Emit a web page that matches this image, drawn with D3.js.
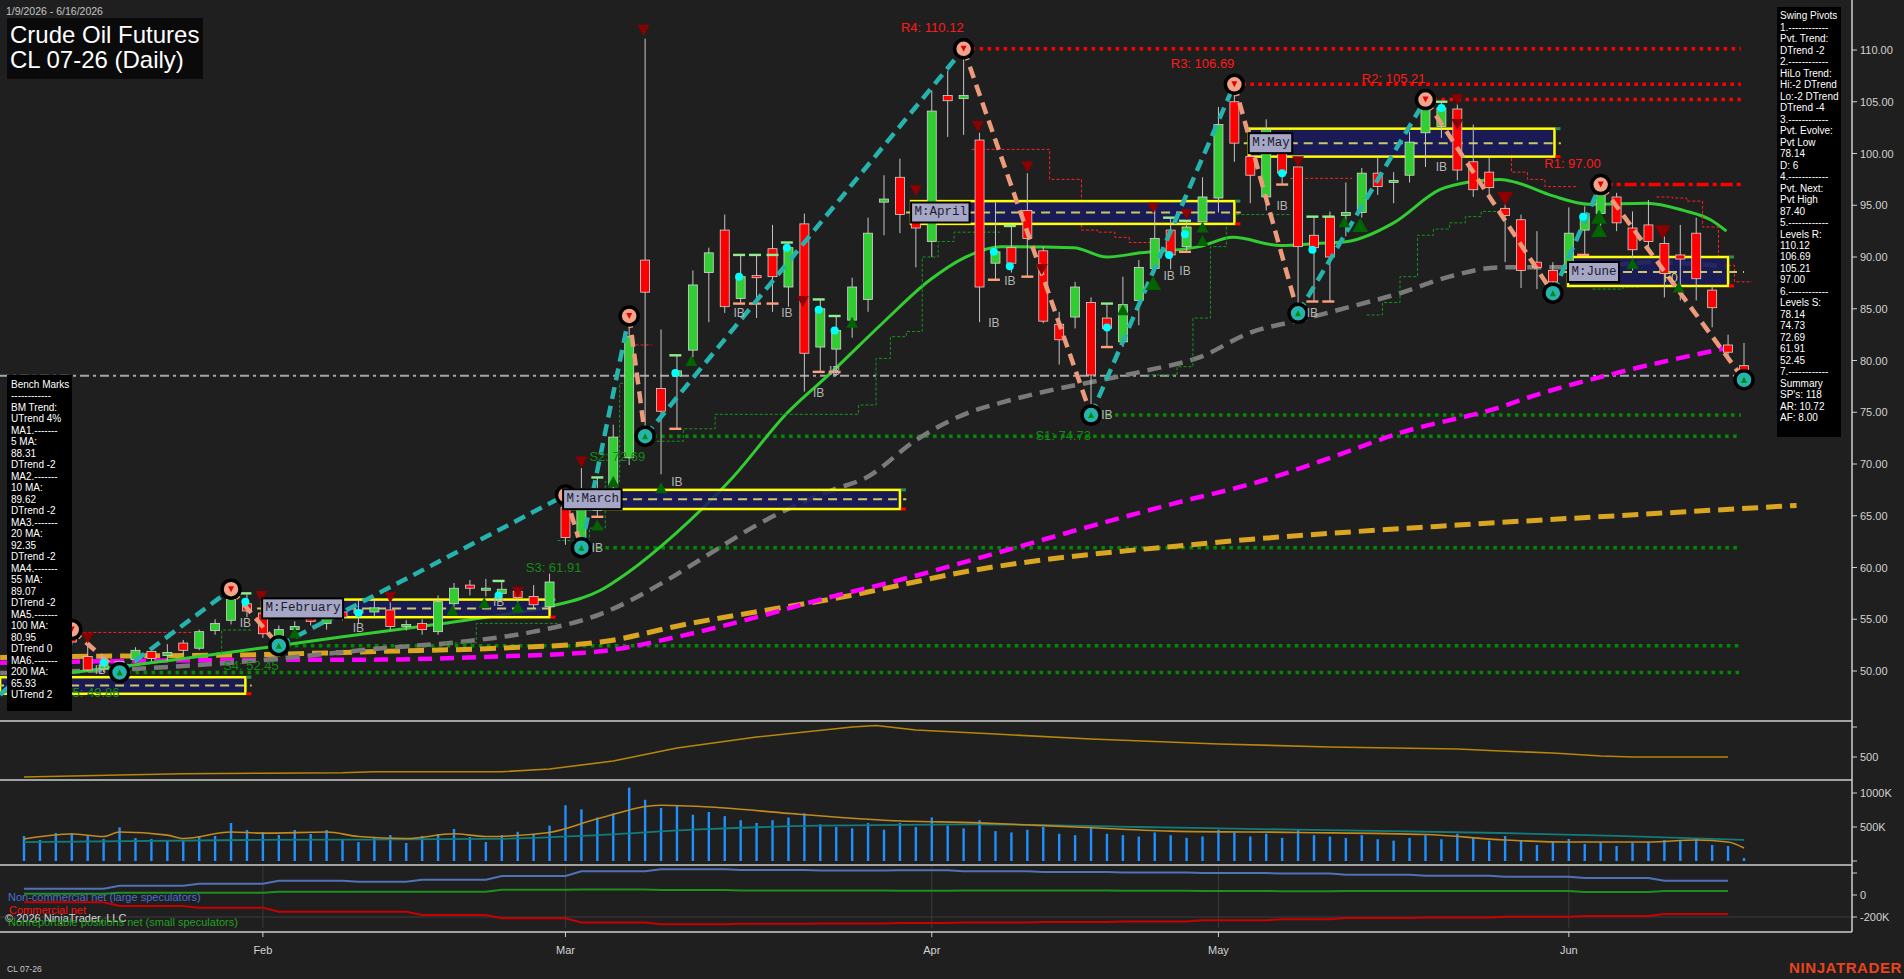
<!DOCTYPE html>
<html><head><meta charset="utf-8">
<script src="https://cdn.jsdelivr.net/npm/d3@7"></script>
<style>
html,body{margin:0;padding:0;background:#1f1f1f;overflow:hidden;}
svg{display:block;}
</style></head><body>
<svg id="chart" width="1904" height="979"></svg>
<script>
// ================= DATA =================
const dateRange = "1/9/2026 - 6/16/2026";
const titleLines = ["Crude Oil Futures", "CL 07-26 (Daily)"];
const footerSymbol = "CL 07-26";

const opens = [51.8,52.6,53.0,53.5,51.4,50.2,50.4,51.1,51.9,51.5,
 52.7,52.2,53.9,54.9,56.5,55.6,53.4,54.0,55.9,54.6,
 55.7,55.6,55.7,55.9,54.3,54.6,53.8,56.5,58.3,57.8,
 57.5,57.7,57.2,56.2,65.8,62.9,65.5,67.8,70.6,89.7,
 77.3,78.5,81.0,88.5,92.6,86.0,88.2,90.8,87.1,93.2,
 81.3,81.1,83.9,85.9,95.3,97.7,94.2,91.5,105.6,105.3,
 101.3,89.4,90.9,94.5,90.6,83.5,84.2,85.6,84.1,81.8,
 85.8,88.9,92.6,91.0,93.4,95.7,105.0,99.7,95.8,101.0,
 98.7,92.1,93.9,94.0,94.3,98.1,97.2,97.9,102.0,102.6,
 104.3,99.2,98.2,94.7,93.6,89.5,88.7,88.9,92.6,94.2,
 95.8,92.8,93.1,91.3,90.2,92.3,86.8,81.5,79.5];
const highs = [53.0,53.4,53.8,54.0,53.3,50.9,51.0,52.3,52.2,52.6,
 53.0,54.0,55.0,57.9,57.4,56.2,54.4,54.8,56.3,55.6,
 56.8,56.8,56.9,56.8,54.9,55.0,57.3,58.5,58.8,58.9,
 58.7,58.0,58.3,59.4,67.0,69.6,68.7,73.8,84.3,111.1,
 83.0,80.5,88.7,90.9,94.1,90.2,90.2,93.1,91.4,94.2,
 85.9,84.3,88.0,93.8,97.9,99.5,95.0,106.1,108.0,110.12,
 102.0,95.3,93.0,98.1,91.0,84.7,87.6,86.1,85.5,88.1,
 89.7,94.8,93.8,93.5,97.7,104.5,106.69,102.5,103.3,102.0,
 99.5,93.9,94.4,97.2,98.6,99.6,98.2,102.1,105.21,105.0,
 104.8,102.8,99.6,95.5,94.1,92.5,89.5,94.8,94.9,97.0,
 96.2,94.4,95.5,92.0,93.1,93.8,87.2,82.5,81.7];
const lows = [51.2,52.0,52.4,52.5,50.0,49.9,49.86,50.8,50.9,51.0,
 51.6,52.0,53.5,54.5,55.2,53.2,52.45,53.2,54.4,54.0,
 54.9,54.6,55.2,54.0,53.9,53.5,53.5,56.2,57.3,57.2,
 56.9,56.6,56.0,56.0,62.2,61.91,64.9,67.2,69.9,72.69,
 69.0,73.4,80.3,83.7,84.6,85.5,84.1,84.7,85.2,77.0,
 78.9,78.5,82.2,84.7,92.1,92.3,89.0,90.0,101.6,101.8,
 83.7,87.8,88.5,88.1,83.6,79.6,83.1,74.73,81.3,81.3,
 83.4,88.5,88.8,90.5,92.8,94.3,99.2,95.2,94.5,97.0,
 84.56,85.7,85.7,92.0,93.8,96.0,95.2,97.2,98.7,101.5,
 97.4,95.8,95.8,89.5,87.0,86.9,86.5,87.5,90.2,93.0,
 92.5,88.7,90.8,86.1,85.8,85.8,83.2,80.0,78.14];
const closes = [52.6,53.1,53.4,52.8,50.1,50.6,50.9,52.0,51.2,51.8,
 52.0,53.8,54.6,56.9,55.8,53.6,54.0,54.3,54.8,55.2,
 55.2,55.9,56.1,54.3,54.5,54.0,56.7,58.0,58.0,58.0,
 57.9,57.1,56.4,58.6,62.9,66.2,66.8,72.6,82.3,86.6,
 75.1,79.0,87.3,90.4,85.2,88.1,88.0,88.1,90.9,80.7,
 85.0,82.9,87.1,92.3,95.6,94.1,92.8,104.1,105.1,105.6,
 87.1,90.5,89.4,91.8,83.8,82.0,87.1,78.6,83.1,85.4,
 89.0,91.8,90.2,92.9,95.8,102.8,101.0,97.9,102.3,98.1,
 91.0,90.9,90.0,94.3,98.1,96.8,97.4,101.1,104.4,104.4,
 98.4,96.5,96.7,94.0,88.7,89.0,87.6,92.3,94.0,96.0,
 93.3,90.7,91.5,88.4,89.8,87.9,85.1,80.8,78.5];
const volumesK = [368,309,412,412,368,324,495,338,324,294,
 294,368,368,559,456,426,382,456,397,456,
 309,279,353,382,265,368,397,471,353,279,
 380,430,400,520,820,760,640,700,1080,900,
 780,820,680,720,660,600,560,600,640,700,
 540,500,480,560,460,560,500,640,520,480,
 600,440,420,460,500,400,380,520,400,380,
 360,420,380,340,360,460,420,360,400,340,
 460,380,360,340,380,320,300,340,380,320,
 400,340,300,368,294,235,279,324,250,279,
 221,265,279,309,294,324,235,221,44];

// moving averages: [bar index, value]
const ma20 = [[-1.5,49.2],[3.3,49.9],[9,51.0],[15.3,52.3],[20,53.3],[24.9,54.3],[29,55.2],[32.9,56.2],[36.2,57.8],[37.9,59.5],[41,63.4],[44.5,68.7],[47.9,74.9],[50.8,79.0],[53.9,83.6],[56.9,87.8],[59,89.9],[61.3,91.0],[65.9,90.9],[68,90.0],[70.1,90.4],[73.8,91.0],[75.9,91.9],[78.9,91.1],[81.2,91.3],[83.1,91.5],[86,93.3],[88.9,96.5],[91,97.3],[92.7,97.5],[93.7,97.2],[96,95.9],[98.3,95.1],[101.9,95.2],[104.2,94.5],[105.9,93.6],[106.9,92.5]];
const ma55 = [[-1.5,49.8],[6.9,50.2],[15.3,51.1],[22.5,52.2],[27.3,52.8],[32,53.8],[36.2,55.5],[40.4,58.8],[42.4,60.7],[46.6,64.6],[50.8,67.5],[52.9,68.7],[56,72.3],[59.2,74.9],[61.3,75.9],[64.4,77.1],[67.6,78.1],[70.7,79.1],[73.8,80.3],[77,82.7],[80.1,83.9],[83.3,85.2],[86.4,86.5],[89.5,88.1],[92.7,89.0],[97.9,89.0],[102.1,89.5],[106.9,89.1]];
const ma100 = [[-1.5,50.8],[3.1,50.9],[12.9,51.06],[22.5,51.1],[29.7,51.4],[36.2,51.9],[41,53.3],[46,55.2],[50,56.9],[55,58.8],[61.3,61.5],[67,64.0],[72,66.1],[78,68.5],[82.2,70.7],[86.4,73.0],[92.7,75.5],[94.4,76.4],[100,78.8],[106.9,81.2]];
const ma200 = [[-1.5,51.3],[3.1,51.4],[15.3,51.6],[22.5,51.9],[29.7,52.2],[36.2,52.8],[41.2,54.4],[51.9,57.3],[59.5,59.7],[74.7,62.4],[90,64.1],[100,65.0],[111.3,66.0]];

// swing pivots
const swingIdx = [-1.5, 3, 6, 13, 16, 34, 35, 38, 39, 59, 67, 76, 80, 88, 96, 99, 108];
const swingVal = [47.7, 54.0, 49.86, 57.9, 52.45, 67.0, 61.91, 84.3, 72.69, 110.12, 74.73, 106.69, 84.56, 105.21, 86.5, 97.0, 78.14];

const resLabels = ["R4: 110.12","R3: 106.69","R2: 105.21","R1: 97.00"];
const resIdx = [59, 76, 88, 99];
const resVal = [110.12, 106.69, 105.21, 97.00];
const supLabels = ["S1: 74.73","S2: 72.69","S3: 61.91","S4: 52.45","S5: 49.86"];
const supIdx = [67, 39, 35, 16, 6];
const supVal = [74.73, 72.69, 61.91, 52.45, 49.86];
const lastPrice = 78.53;

// monthly range boxes (January's label is hidden behind the Bench Marks panel)
const boxNames = ["","M:February","M:March","M:April","M:May","M:June"];
const boxStart = [-1.5, 14.95, 33.85, 55.7, 76.9, 96.95];
const boxEnd   = [13.9, 33.0, 55.0, 76.0, 96.1, 107.0];
const boxMidEnd= [14.3, 33.4, 55.4, 76.4, 96.5, 108.0];
const boxHigh  = [49.4, 56.9, 67.5, 95.4, 102.4, 90.0];
const boxLow   = [47.8, 55.2, 65.65, 93.2, 99.7, 87.2];
const boxMid   = [48.6, 56.05, 66.6, 94.3, 101.0, 88.55];

// trailing step lines [bar index, price]
const redSteps = [
 [[3.1,53.73],[10.5,53.73]],
 [[38.4,81.5],[39.4,81.5]],
 [[59.5,100.4],[64.4,97.5],[66.4,92.6],[67.4,92.4],[68.5,91.9],[69.4,91.4],[71.3,91.4]],
 [[79.5,97.6],[83.4,97.6]],
 [[92.5,100.1],[93.4,98.2],[94.4,97.5],[95.5,96.8],[97.5,96.8]],
 [[102.5,95.8],[103.5,95.7],[104.4,95.4],[105.4,92.9],[106.4,89.2],[107.4,87.6],[108.5,87.6]]
];
const greenSteps = [
 [[12.4,51.7],[12.41,53.96],[14.4,53.96]],
 [[26.4,52.7],[28.4,54.6],[33.5,54.6]],
 [[33.5,62.6],[35.5,63.8],[36.5,68.3],[37.4,77.8],[38.2,77.8]],
 [[39.1,72.2],[41.4,73.4],[43.4,74.8],[52.4,75.7],[53.5,80.2],[54.4,82.3],[55.4,82.8],[56.4,90.0],[57.4,91.5],[58.4,92.4],[61.3,92.4]],
 [[70.5,78.6],[72.4,79.4],[73.4,84.1],[74.5,91.0],[75.5,94.1],[79.5,94.1]],
 [[84.3,84.4],[85.3,85.6],[86.4,88.1],[87.5,92.1],[88.5,92.7],[89.5,93.3],[90.5,93.9],[91.5,94.4],[92.7,94.4]],
 [[98.5,86.9],[100.4,87.1],[101.5,87.1]]
];

// signal markers [bar index, price]
const downTri = [[4,53.2],[14.9,57.2],[23,57.1],[31,57.6],[35,70.2],[38.9,111.9],[48.9,85.7],[56,96.4],[59.9,102.6],[63,98.7],[63.9,88.8],[70.9,94.7],[73,94.1],[80,99.2],[90,105.2],[90,102.8]];
const downTriBig = [[93,95.6],[102.9,92.4]];
const upTri = [[17,53.7],[26.9,55.9],[28.9,56.6],[31,56.2],[36,64.1],[37,68.3],[40,67.7],[41.9,80.0],[52,83.7],[69,84.9],[74,92.9],[74,91.6],[82.9,93.4],[101,89.4],[103.9,87.1]];
const upTriBig = [[70.9,87.5],[83.9,93.1],[98.9,93.9],[98.9,92.6]];
const cyanDots = [[5,50.8],[13.9,56.7],[21,55.6],[29.8,57.3],[36,66.2],[40.9,78.8],[44.9,88.1],[47.9,90.9],[49.9,84.9],[50.9,82.9],[60.9,90.5],[61.9,89.1],[68,83.2],[71.9,90.2],[72.9,92.2],[79,98.1],[80.9,90.7],[89,104.4],[97.9,93.9]];
const capsHigh = [[13.9,57.5],[29.8,58.7],[36,68.7],[40.9,80.5],[44.9,90.2],[45.9,90.2],[47,90.2],[47.9,91.4],[49.9,85.9],[50.9,84.3],[61.9,93.0],[68,85.5],[71.9,93.8],[72.9,93.5],[80.9,93.9],[81.9,93.9],[89,105.0]];
const capsLow = [[36,64.9],[40.9,73.4],[44.9,85.5],[45.9,85.5],[47,85.5],[49.9,78.9],[50.9,78.9],[60.9,87.8],[63,88.1],[68,81.3],[72.9,90.5],[79,97.0],[80.9,85.7],[81.9,85.7],[97.9,90.2]];
const ibLabels = [[4.8,50.1],[13.9,54.6],[21,54.2],[29.8,56.7],[36,61.9],[41,68.3],[44.9,84.6],[47.9,84.6],[49.9,76.9],[50.9,79.0],[60.9,83.6],[61.9,87.7],[68,74.7],[71.9,88.2],[72.9,88.6],[79,94.9],[80.9,84.6],[89,98.7]];
const f0Label = [103.4, 88.0];

// text panels
const benchLines = ["Bench Marks","------------","BM Trend:","UTrend 4%","MA1.-------","5 MA:","88.31","DTrend -2","MA2.-------","10 MA:","89.62","DTrend -2","MA3.-------","20 MA:","92.35","DTrend -2","MA4.-------","55 MA:","89.07","DTrend -2","MA5.-------","100 MA:","80.95","DTrend 0","MA6.-------","200 MA:","65.93","UTrend 2"];
const swingLines = ["Swing Pivots","1.------------","Pvt. Trend:","DTrend -2","2.------------","HiLo Trend:","Hi:-2 DTrend","Lo:-2 DTrend","DTrend -4","3.------------","Pvt. Evolve:","Pvt Low","78.14","D: 6","4.------------","Pvt. Next:","Pvt High","87.40","5.------------","Levels R:","110.12","106.69","105.21","97.00","6.------------","Levels S:","78.14","74.73","72.69","61.91","52.45","7.------------","Summary","SP's: 118","AR: 10.72","AF: 8.00"];

// axes
const priceTicks = [50,55,60,65,70,75,80,85,90,95,100,105,110];
const monthLabels = ["Feb","Mar","Apr","May","Jun"];
const monthTickIdx = [15, 34, 57, 75, 97];

// panel 2 (orange study)
const panel2 = [[0,167],[3,183],[6,200],[10,222],[15,230],[20,238],[22,255],[30,255],[33,300],[37,433],[41,650],[46,833],[52,1000],[53.5,1025],[56,950],[61,883],[67,800],[75,717],[82,667],[90,633],[92.7,600],[96,567],[99,517],[101,500],[107,500]];
const panel2Ticks = [500, 1000];
const panel2TickLabels = ["500", ""];
// volume overlays
const volAvg = [[0,324],[3,397],[5,360],[6,426],[9,380],[10,330],[13,426],[15,410],[19,426],[21,360],[24,330],[27,400],[29,360],[33,420],[36,620],[40,820],[44,780],[48,700],[54,600],[60,560],[66,500],[72,440],[80,420],[88,390],[93,309],[97,279],[102,279],[105,309],[107,280],[108,191]];
const volSlow = [[0,279],[14,309],[29,324],[36,380],[42,460],[50,520],[60,540],[70,500],[80,460],[92.7,412],[100,370],[108,309]];
const volTicks = [0, 500, 1000];
const volTickLabels = ["", "500K", "1000K"];
// COT (weekly)
const cotWeekStart = [0,6,11,16,21,25,30,35,40,45,50,55,59,64,69,74,79,83,88,93,98,103];
const cotNonComm = [57,85,103,130,121,139,173,215,235,228,222,225,215,210,205,200,195,185,175,166,155,130];
const cotNonRep  = [12,21,21,30,30,30,48,50,45,42,40,38,40,42,38,36,35,36,36,36,27,36];
const cotComm    = [-67,-100,-115,-152,-152,-182,-212,-250,-265,-262,-258,-255,-250,-245,-240,-230,-220,-210,-205,-197,-191,-173];
const cotTicks = [-200, 0, 200];
const cotTickLabels = ["-200K", "0", ""];
const cotLegend = ["Non-commercial net (large speculators)","Commercial net","© 2026 NinjaTrader, LLC","Nonreportable positions net (small speculators)"];

// ================= DRAW =================
const FONT = "'Liberation Sans', Arial, Helvetica, sans-serif";
const MONO = "'Liberation Mono', 'Courier New', monospace";
const AXIS_X = 1852;
const svg = d3.select('#chart');
const x = d3.scaleLinear().domain([0,108]).range([24,1744]);
const y = d3.scaleLinear().domain([50,110]).range([671,50]);
const yP2 = d3.scaleLinear().domain([500,1000]).range([757,727]);
const yVol = d3.scaleLinear().domain([0,1000]).range([861,793]);
const yCot = d3.scaleLinear().domain([-200,200]).range([917,873]);

svg.append('rect').attr('width',1904).attr('height',979).attr('fill','#1f1f1f');
const defs = svg.append('defs');
defs.append('clipPath').attr('id','clipMain').append('rect').attr('x',0).attr('y',0).attr('width',AXIS_X).attr('height',720);
const main = svg.append('g').attr('clip-path','url(#clipMain)');

const lineP = d3.line().x(d=>x(d[0])).y(d=>y(d[1]));
const smooth = d3.line().x(d=>x(d[0])).y(d=>y(d[1])).curve(d3.curveMonotoneX);
const stepL = d3.line().x(d=>x(d[0])).y(d=>y(d[1])).curve(d3.curveStepAfter);

// dotted levels
resIdx.forEach((ri,k)=>{
  main.append('line').attr('x1',x(ri)).attr('x2',x(107.8)).attr('y1',y(resVal[k])).attr('y2',y(resVal[k]))
    .attr('stroke','#ff0000').attr('stroke-width',3.5)
    .attr('stroke-dasharray', k===3 ? '12,4,4,4' : '3.5,4.5');
});
supIdx.forEach((si,k)=>{
  main.append('line').attr('x1',x(si)).attr('x2',x(107.8)).attr('y1',y(supVal[k])).attr('y2',y(supVal[k]))
    .attr('stroke','#008c00').attr('stroke-width',3.5).attr('stroke-dasharray','3.5,4.5');
});
// current price dash-dot
main.append('line').attr('x1',0).attr('x2',x(108)).attr('y1',y(lastPrice)).attr('y2',y(lastPrice))
  .attr('stroke','#a6a6a6').attr('stroke-width',2).attr('stroke-dasharray','9,4,3,4');

// moving averages
main.append('path').attr('d',smooth(ma200)).attr('fill','none').attr('stroke','#daa520').attr('stroke-width',5).attr('stroke-dasharray','16,8');
main.append('path').attr('d',smooth(ma100)).attr('fill','none').attr('stroke','#ff00ff').attr('stroke-width',4.5).attr('stroke-dasharray','14,8');
main.append('path').attr('d',smooth(ma55)).attr('fill','none').attr('stroke','#7a7a7a').attr('stroke-width',4.5).attr('stroke-dasharray','14,8');
main.append('path').attr('d',smooth(ma20)).attr('fill','none').attr('stroke','#32cd32').attr('stroke-width',3);

// step lines
redSteps.forEach(s=>main.append('path').attr('d',stepL(s)).attr('fill','none').attr('stroke','#ff2020').attr('stroke-width',1).attr('stroke-dasharray','3,2'));
greenSteps.forEach(s=>main.append('path').attr('d',stepL(s)).attr('fill','none').attr('stroke','#14961e').attr('stroke-width',1).attr('stroke-dasharray','3,2'));

// monthly boxes
boxNames.forEach((nm,k)=>{
  const x0=x(boxStart[k]), x1=x(boxEnd[k]);
  main.append('rect').attr('x',x0).attr('y',y(boxHigh[k])).attr('width',x1-x0).attr('height',y(boxLow[k])-y(boxHigh[k]))
    .attr('fill','#1a1a5c').attr('fill-opacity',0.88).attr('stroke','#ffff00').attr('stroke-width',2.5);
  main.append('line').attr('x1',x0-5).attr('x2',x(boxMidEnd[k])).attr('y1',y(boxMid[k])).attr('y2',y(boxMid[k]))
    .attr('stroke','#c9c96a').attr('stroke-width',2).attr('stroke-dasharray','9,6');
  main.append('rect').attr('x',x1+1).attr('y',y(boxHigh[k])-1.5).attr('width',5).attr('height',3).attr('fill','#2e8b57');
  main.append('rect').attr('x',x1+1).attr('y',y(boxLow[k])-1.5).attr('width',5).attr('height',3).attr('fill','#ff0000');
});

// candles
const bars = opens.map((o,i)=>({i,o,h:highs[i],l:lows[i],c:closes[i]}));
const cg = main.append('g');
cg.selectAll('line').data(bars).join('line')
  .attr('x1',d=>x(d.i)).attr('x2',d=>x(d.i)).attr('y1',d=>y(d.h)).attr('y2',d=>y(d.l))
  .attr('stroke','#c4c4c4').attr('stroke-width',1);
cg.selectAll('rect').data(bars).join('rect')
  .attr('x',d=>x(d.i)-4.5).attr('width',9)
  .attr('y',d=>y(Math.max(d.o,d.c)))
  .attr('height',d=>Math.max(1.5,Math.abs(y(d.o)-y(d.c))))
  .attr('fill',d=>d.c>=d.o?'#32cd32':'#ff0000')
  .attr('stroke','#d4d4d4').attr('stroke-width',0.8);

// caps
capsHigh.forEach(d=>main.append('rect').attr('x',x(d[0])-6).attr('y',y(d[1])-1.2).attr('width',12).attr('height',2.4).attr('fill','#90ee90'));
capsLow.forEach(d=>main.append('rect').attr('x',x(d[0])-6).attr('y',y(d[1])-1.2).attr('width',12).attr('height',2.4).attr('fill','#ffa07a'));

// swing lines
for(let k=0;k<swingIdx.length-1;k++){
  const up = swingVal[k+1]>swingVal[k];
  main.append('path').attr('d',lineP([[swingIdx[k],swingVal[k]],[swingIdx[k+1],swingVal[k+1]]]))
    .attr('fill','none').attr('stroke', up ? '#26b3ae' : '#eb9a7c').attr('stroke-width',4.5).attr('stroke-dasharray','12,7');
}
cyanDots.forEach(d=>main.append('circle').attr('cx',x(d[0])).attr('cy',y(d[1])).attr('r',4).attr('fill','#00ffff'));

// triangles
const triDown=(cx,cy,w,h)=>`M${cx-w},${cy-h/2}L${cx+w},${cy-h/2}L${cx},${cy+h/2}Z`;
const triUp=(cx,cy,w,h)=>`M${cx-w},${cy+h/2}L${cx+w},${cy+h/2}L${cx},${cy-h/2}Z`;
downTri.forEach(d=>main.append('path').attr('d',triDown(x(d[0]),y(d[1]),6,11)).attr('fill','#8b0000'));
downTriBig.forEach(d=>main.append('path').attr('d',triDown(x(d[0]),y(d[1]),8,14)).attr('fill','#8b0000'));
upTri.forEach(d=>main.append('path').attr('d',triUp(x(d[0]),y(d[1]),6,11)).attr('fill','#006400'));
upTriBig.forEach(d=>main.append('path').attr('d',triUp(x(d[0]),y(d[1]),8,14)).attr('fill','#006400'));

// pivot circles
for(let k=1;k<swingIdx.length;k++){
  const isHigh = swingVal[k] > swingVal[k-1];
  const cx=x(swingIdx[k]), cy=y(swingVal[k]);
  main.append('circle').attr('cx',cx).attr('cy',cy).attr('r',9).attr('fill',isHigh?'#f2a48a':'#26b3ae').attr('stroke','#000').attr('stroke-width',3.5);
  if(isHigh) main.append('path').attr('d',triDown(cx,cy,3,6)).attr('fill','#e00000');
  else main.append('path').attr('d',triUp(cx,cy,3,6)).attr('fill','#0a8a0a');
}

// month box labels (drawn over pivots, as in the reference)
boxNames.forEach((nm,k)=>{
  if(!nm) return;
  const x0=x(boxStart[k]); const w=nm.length*7.5+6; const ym=y(boxMid[k]);
  main.append('rect').attr('x',x0).attr('y',ym-10).attr('width',w).attr('height',20)
    .attr('fill','#a6a6c6').attr('stroke','#000').attr('stroke-width',2);
  main.append('text').attr('x',x0+3.5).attr('y',ym).attr('dominant-baseline','central')
    .attr('font-family',MONO).attr('font-size','12.5px').attr('fill','#1c1c2c').text(nm);
});

// IB labels
ibLabels.forEach(d=>main.append('text').attr('x',x(d[0])).attr('y',y(d[1])).attr('text-anchor','middle').attr('dominant-baseline','central')
  .attr('font-family',FONT).attr('font-size','12px').attr('fill','#b4b4b4').text('IB'));
main.append('text').attr('x',x(f0Label[0])).attr('y',y(f0Label[1])).attr('text-anchor','middle').attr('dominant-baseline','central')
  .attr('font-family',FONT).attr('font-size','12px').attr('fill','#d6d66a').text('F0');

// level labels
resLabels.forEach((t,k)=>main.append('text').attr('x',x(resIdx[k])).attr('y',y(resVal[k])-21).attr('text-anchor','end').attr('dominant-baseline','central')
  .attr('font-family',FONT).attr('font-size','13px').attr('fill','#ff1a1a').text(t));
supLabels.forEach((t,k)=>main.append('text').attr('x',x(supIdx[k])).attr('y',y(supVal[k])+20).attr('text-anchor','end').attr('dominant-baseline','central')
  .attr('font-family',FONT).attr('font-size','13px').attr('fill','#138a13').text(t));

// ---------- lower panels ----------
const p2line = d3.line().x(d=>x(d[0])).y(d=>yP2(d[1]));
svg.append('path').attr('d',p2line(panel2)).attr('fill','none').attr('stroke','#b8860b').attr('stroke-width',1.6);

svg.append('g').selectAll('rect').data(volumesK).join('rect')
  .attr('x',(d,i)=>x(i)-1.2).attr('width',2.4).attr('y',d=>yVol(d)).attr('height',d=>yVol(0)-yVol(d)).attr('fill','#1e90ff');
const vline = d3.line().x(d=>x(d[0])).y(d=>yVol(d[1])).curve(d3.curveMonotoneX);
svg.append('path').attr('d',vline(volSlow)).attr('fill','none').attr('stroke','#137b7b').attr('stroke-width',1.8);
svg.append('path').attr('d',vline(volAvg)).attr('fill','none').attr('stroke','#c08a1e').attr('stroke-width',1.6);

// COT grid
monthTickIdx.forEach(i=>svg.append('line').attr('x1',x(i)).attr('x2',x(i)).attr('y1',866).attr('y2',928).attr('stroke','#3a3a3a').attr('stroke-width',1));
svg.append('line').attr('x1',0).attr('x2',AXIS_X).attr('y1',yCot(-200)).attr('y2',yCot(-200)).attr('stroke','#3c3c3c').attr('stroke-width',1);
const cotPts = vals => { const pts=[]; cotWeekStart.forEach((s,k)=>{ const e = k<cotWeekStart.length-1 ? cotWeekStart[k+1]-1 : 107; pts.push([s,vals[k]],[e,vals[k]]); }); return pts; };
const cline = d3.line().x(d=>x(d[0])).y(d=>yCot(d[1]));
svg.append('path').attr('d',cline(cotPts(cotNonComm))).attr('fill','none').attr('stroke','#4f72b8').attr('stroke-width',2);
svg.append('path').attr('d',cline(cotPts(cotNonRep))).attr('fill','none').attr('stroke','#1f8f1f').attr('stroke-width',2);
svg.append('path').attr('d',cline(cotPts(cotComm))).attr('fill','none').attr('stroke','#c80000').attr('stroke-width',2);
const legColors = ['#4a6fd4','#ff1010','#d6d6d6','#22a022'];
const legY = [897, 910, 918, 922];
const legX = [8, 9, 5, 8];
cotLegend.forEach((t,k)=>svg.append('text').attr('x',legX[k]).attr('y',legY[k]).attr('dominant-baseline','central')
  .attr('font-family',FONT).attr('font-size','11px').attr('fill',legColors[k]).text(t));

// separators and axis line
[721,780,865,932].forEach(yy=>svg.append('line').attr('x1',0).attr('x2',AXIS_X).attr('y1',yy).attr('y2',yy).attr('stroke','#cfcfcf').attr('stroke-width',1.5));
svg.append('line').attr('x1',AXIS_X).attr('x2',AXIS_X).attr('y1',0).attr('y2',932).attr('stroke','#cfcfcf').attr('stroke-width',1.5);

// right axes
const axisText = (yy,t)=>svg.append('text').attr('x',AXIS_X+8).attr('y',yy).attr('dominant-baseline','central')
  .attr('font-family',FONT).attr('font-size','11px').attr('fill','#d2d2d2').text(t);
const axisTick = yy=>svg.append('line').attr('x1',AXIS_X).attr('x2',AXIS_X+5).attr('y1',yy).attr('y2',yy).attr('stroke','#cfcfcf').attr('stroke-width',1);
priceTicks.forEach(p=>{ axisTick(y(p)); axisText(y(p), d3.format('.2f')(p)); });
panel2Ticks.forEach((v,k)=>{ axisTick(yP2(v)); if(panel2TickLabels[k]) axisText(yP2(v), panel2TickLabels[k]); });
volTicks.forEach((v,k)=>{ axisTick(yVol(v)); if(volTickLabels[k]) axisText(yVol(v), volTickLabels[k]); });
cotTicks.forEach((v,k)=>{ axisTick(yCot(v)); if(cotTickLabels[k]) axisText(yCot(v), cotTickLabels[k]); });

// x axis
monthTickIdx.forEach((i,k)=>{
  svg.append('line').attr('x1',x(i)).attr('x2',x(i)).attr('y1',932).attr('y2',937).attr('stroke','#cfcfcf').attr('stroke-width',1);
  svg.append('text').attr('x',x(i)).attr('y',950).attr('text-anchor','middle').attr('dominant-baseline','central')
    .attr('font-family',FONT).attr('font-size','11px').attr('fill','#d2d2d2').text(monthLabels[k]);
});
svg.append('text').attr('x',7).attr('y',969).attr('dominant-baseline','central').attr('font-family',FONT).attr('font-size','8.5px').attr('fill','#c8c8c8').text(footerSymbol);
svg.append('text').attr('x',1902).attr('y',973).attr('text-anchor','end').attr('font-family',FONT).attr('font-weight','bold')
  .attr('font-size','15px').attr('letter-spacing','0.6px').attr('fill','#e8441e').text('NINJATRADER');

// title
svg.append('text').attr('x',6).attr('y',11).attr('dominant-baseline','central').attr('font-family',FONT).attr('font-size','10.5px').attr('fill','#c4c4c4').text(dateRange);
svg.append('rect').attr('x',7).attr('y',18).attr('width',196).attr('height',61).attr('fill','#0a0a0a');
titleLines.forEach((t,k)=>svg.append('text').attr('x',10).attr('y',43+k*25).attr('font-family',FONT).attr('font-size','24px').attr('fill','#ffffff').text(t));

// bench marks box
svg.append('rect').attr('x',7).attr('y',375).attr('width',65).attr('height',336).attr('fill','#000');
benchLines.forEach((t,k)=>svg.append('text').attr('x',11).attr('y',384+k*11.5).attr('dominant-baseline','central')
  .attr('font-family',FONT).attr('font-size','10px').attr('fill','#ffffff').text(t));
// swing pivots box
svg.append('rect').attr('x',1777).attr('y',7).attr('width',64).attr('height',430).attr('fill','#000');
swingLines.forEach((t,k)=>svg.append('text').attr('x',1780).attr('y',15.7+k*11.49).attr('dominant-baseline','central')
  .attr('font-family',FONT).attr('font-size','10px').attr('fill','#ffffff').text(t));
</script>
</body></html>
